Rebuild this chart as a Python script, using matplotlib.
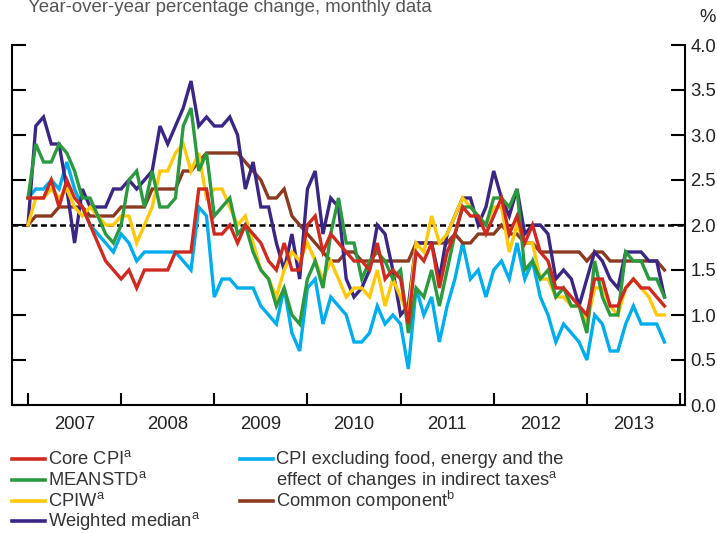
import matplotlib
matplotlib.use("Agg")
import matplotlib.pyplot as plt
import numpy as np
from matplotlib.lines import Line2D

plt.rcParams['font.family'] = ['Liberation Sans', 'DejaVu Sans']
plt.rcParams['mathtext.fontset'] = 'custom'
plt.rcParams['mathtext.rm'] = 'Liberation Sans'
plt.rcParams['mathtext.it'] = 'Liberation Sans:italic'

# ---------------- data (monthly, Jan 2007 - Nov 2013) ----------------
start_year = 2007
core_cpi = [2.3, 2.3, 2.3, 2.5, 2.2, 2.5, 2.3, 2.2, 2.0, 1.8, 1.6, 1.5,
            1.4, 1.5, 1.3, 1.5, 1.5, 1.5, 1.5, 1.7, 1.7, 1.7, 2.4, 2.4,
            1.9, 1.9, 2.0, 1.8, 2.0, 1.9, 1.8, 1.6, 1.5, 1.8, 1.5, 1.5,
            2.0, 2.1, 1.7, 1.9, 1.8, 1.7, 1.6, 1.6, 1.5, 1.8, 1.4, 1.5,
            1.4, 0.9, 1.7, 1.6, 1.8, 1.3, 1.7, 1.9, 2.2, 2.1, 2.1, 1.9,
            2.1, 2.3, 1.9, 2.1, 1.8, 2.0, 1.7, 1.6, 1.3, 1.3, 1.2, 1.1,
            1.0, 1.4, 1.4, 1.1, 1.1, 1.3, 1.4, 1.3, 1.3, 1.2, 1.1]
meanstd = [2.3, 2.9, 2.7, 2.7, 2.9, 2.8, 2.6, 2.3, 2.3, 2.1, 1.9, 1.8,
           2.0, 2.5, 2.6, 2.2, 2.6, 2.2, 2.2, 2.3, 3.1, 3.3, 2.6, 2.8,
           2.1, 2.2, 2.3, 1.9, 2.0, 1.7, 1.5, 1.4, 1.1, 1.3, 1.0, 0.9,
           1.4, 1.6, 1.3, 1.9, 2.3, 1.8, 1.8, 1.4, 1.6, 1.7, 1.6, 1.4,
           1.5, 0.8, 1.3, 1.2, 1.5, 1.1, 1.5, 1.9, 2.2, 2.2, 2.1, 2.0,
           2.3, 2.3, 2.2, 2.4, 1.5, 1.6, 1.4, 1.5, 1.2, 1.3, 1.1, 1.1,
           0.8, 1.6, 1.2, 1.0, 1.0, 1.7, 1.6, 1.6, 1.4, 1.4, 1.2]
cpiw = [2.0, 2.3, 2.3, 2.4, 2.3, 2.4, 2.2, 2.1, 2.2, 2.1, 2.0, 2.0,
        2.1, 2.1, 1.8, 2.0, 2.2, 2.6, 2.6, 2.8, 2.9, 2.6, 2.8, 2.3,
        2.4, 2.4, 2.2, 2.0, 2.1, 1.8, 1.5, 1.4, 1.2, 1.5, 1.7, 1.6,
        1.8, 1.6, 1.4, 1.6, 1.4, 1.2, 1.3, 1.3, 1.2, 1.5, 1.1, 1.4,
        1.2, 1.0, 1.8, 1.7, 2.1, 1.8, 1.9, 2.1, 2.3, 2.2, 2.1, 2.0,
        2.2, 2.2, 1.7, 2.0, 1.8, 1.8, 1.4, 1.4, 1.2, 1.2, 1.1, 1.1,
        0.9, 1.3, 1.3, 1.1, 1.0, 1.3, 1.4, 1.3, 1.2, 1.0, 1.0]
weighted_median = [2.0, 3.1, 3.2, 2.9, 2.9, 2.4, 1.8, 2.4, 2.2, 2.2, 2.2, 2.4,
                   2.4, 2.5, 2.4, 2.5, 2.6, 3.1, 2.9, 3.1, 3.3, 3.6, 3.1, 3.2,
                   3.1, 3.1, 3.2, 3.0, 2.4, 2.7, 2.2, 2.2, 1.8, 1.5, 1.9, 1.4,
                   2.4, 2.6, 1.9, 2.3, 2.2, 1.4, 1.2, 1.3, 1.5, 2.0, 1.9, 1.5,
                   1.0, 1.1, 1.8, 1.8, 1.8, 1.4, 1.9, 2.1, 2.3, 2.3, 2.0, 2.2,
                   2.6, 2.3, 2.1, 2.4, 1.9, 2.0, 2.0, 1.9, 1.4, 1.5, 1.4, 1.1,
                   1.4, 1.7, 1.6, 1.4, 1.3, 1.7, 1.7, 1.7, 1.6, 1.6, 1.2]
cpi_ex = [2.3, 2.4, 2.4, 2.5, 2.4, 2.7, 2.4, 2.2, 2.0, 1.9, 1.8, 1.7,
          1.9, 1.8, 1.6, 1.7, 1.7, 1.7, 1.7, 1.7, 1.6, 1.5, 2.2, 2.1,
          1.2, 1.4, 1.4, 1.3, 1.3, 1.3, 1.1, 1.0, 0.9, 1.3, 0.8, 0.6,
          1.3, 1.4, 0.9, 1.2, 1.1, 1.0, 0.7, 0.7, 0.8, 1.1, 0.9, 1.0,
          0.9, 0.4, 1.3, 1.0, 1.2, 0.7, 1.1, 1.4, 1.8, 1.4, 1.5, 1.2,
          1.5, 1.6, 1.4, 1.8, 1.4, 1.6, 1.2, 1.0, 0.7, 0.9, 0.8, 0.7,
          0.5, 1.0, 0.9, 0.6, 0.6, 0.9, 1.1, 0.9, 0.9, 0.9, 0.7]
common = [2.0, 2.1, 2.1, 2.1, 2.2, 2.2, 2.2, 2.2, 2.1, 2.1, 2.1, 2.1,
          2.2, 2.2, 2.2, 2.2, 2.4, 2.4, 2.4, 2.4, 2.6, 2.6, 2.7, 2.8,
          2.8, 2.8, 2.8, 2.8, 2.7, 2.6, 2.5, 2.3, 2.3, 2.4, 2.1, 2.0,
          1.9, 1.8, 1.7, 1.6, 1.6, 1.7, 1.7, 1.6, 1.6, 1.6, 1.6, 1.6,
          1.6, 1.6, 1.8, 1.8, 1.8, 1.8, 1.8, 1.9, 1.8, 1.8, 1.9, 1.9,
          1.9, 2.0, 1.9, 1.9, 1.8, 1.8, 1.7, 1.7, 1.7, 1.7, 1.7, 1.7,
          1.6, 1.7, 1.7, 1.6, 1.6, 1.6, 1.6, 1.6, 1.6, 1.6, 1.5]

year_labels = ['2007', '2008', '2009', '2010', '2011', '2012', '2013']
y_ticks = [0.0, 0.5, 1.0, 1.5, 2.0, 2.5, 3.0, 3.5, 4.0]

names = {
    'core': r'Core CPI$^{\mathrm{a}}$',
    'meanstd': r'MEANSTD$^{\mathrm{a}}$',
    'cpiw': r'CPIW$^{\mathrm{a}}$',
    'wmed': r'Weighted median$^{\mathrm{a}}$',
    'ex': 'CPI excluding food, energy and the\neffect of changes in indirect taxes$^{\\mathrm{a}}$',
    'common': r'Common component$^{\mathrm{b}}$',
}
colors = {
    'core': '#d02a20', 'meanstd': '#2a9a3e', 'cpiw': '#ffc90a',
    'wmed': '#3b2686', 'ex': '#00aeef', 'common': '#8b3a1f',
}
series = {'core': core_cpi, 'meanstd': meanstd, 'cpiw': cpiw,
          'wmed': weighted_median, 'ex': cpi_ex, 'common': common}

# ---------------- figure ----------------
W, H = 717, 533
fig = plt.figure(figsize=(W / 100, H / 100), dpi=100)
ax = fig.add_axes([12 / W, 1 - 405 / H, (685 - 12) / W, (405 - 45) / H])

n = len(core_cpi)
x = start_year + np.arange(n) / 12.0

ax.axhline(2.0, color='black', lw=1.8, linestyle=(0, (2.4, 1.4)), zorder=1.5)

draw_order = ['ex', 'common', 'wmed', 'cpiw', 'meanstd', 'core']
for k in draw_order:
    ax.plot(x, series[k], color=colors[k], lw=2.4, solid_joinstyle='miter',
            zorder=2)

yw = (680 - 28) / 7.0
ax.set_xlim(start_year - 16 / yw, start_year + (685 - 28) / yw)
ax.set_ylim(0, 4)

ax.spines['top'].set_visible(False)
for s in ['left', 'right', 'bottom']:
    ax.spines[s].set_linewidth(1.5)
    ax.spines[s].set_color('black')

years = np.arange(start_year, start_year + len(year_labels) + 1)
ax.set_xticks(years)
ax.set_xticklabels([''] * len(years))
ax.set_xticks(np.arange(len(year_labels)) + start_year + 0.5, minor=True)
ax.set_xticklabels(year_labels, minor=True)
ax.tick_params(axis='x', which='major', direction='in', length=9, width=1.5)
ax.tick_params(axis='x', which='minor', length=0, pad=8, labelsize=13.3,
               labelcolor='#222222')

ax.set_yticks(y_ticks)
ax.set_yticklabels([f'{v:.1f}' for v in y_ticks])
ax.tick_params(axis='y', which='both', left=True, right=True, labelleft=False,
               labelright=True, direction='in', length=10, width=1.5,
               labelsize=13.3, pad=4, labelcolor='#222222')

fig.text(708 / W, 1 - 18 / H, '%', ha='center', va='center', fontsize=13.3,
         color='#222222')
fig.text(28 / W, 1 - 12 / H, 'Year-over-year percentage change, monthly data',
         ha='left', va='baseline', fontsize=13.4, color='#555555')

# ---------------- legend (manual) ----------------
fs_leg = 13.2
col1 = ['core', 'meanstd', 'cpiw', 'wmed']
col2 = ['ex', None, 'common']
row_y = [459, 480, 501, 521]
for i, k in enumerate(col1):
    yy = 1 - row_y[i] / H
    fig.add_artist(Line2D([12 / W, 45 / W], [yy, yy], color=colors[k], lw=2.6))
    fig.text(48 / W, yy, names[k], ha='left', va='center', fontsize=fs_leg,
             color='#333333')
for i, k in enumerate(col2):
    if k is None:
        continue
    yy = 1 - row_y[i] / H
    fig.add_artist(Line2D([240 / W, 273 / W], [yy, yy], color=colors[k], lw=2.6))
    if k == 'ex':
        l1, l2 = names[k].split('\n')
        fig.text(276 / W, yy, l1, ha='left', va='center', fontsize=fs_leg,
                 color='#333333')
        fig.text(276 / W, 1 - row_y[1] / H, l2, ha='left', va='center',
                 fontsize=fs_leg, color='#333333')
    else:
        fig.text(276 / W, yy, names[k], ha='left', va='center', fontsize=fs_leg,
                 color='#333333')

fig.savefig('out.png', dpi=100)
